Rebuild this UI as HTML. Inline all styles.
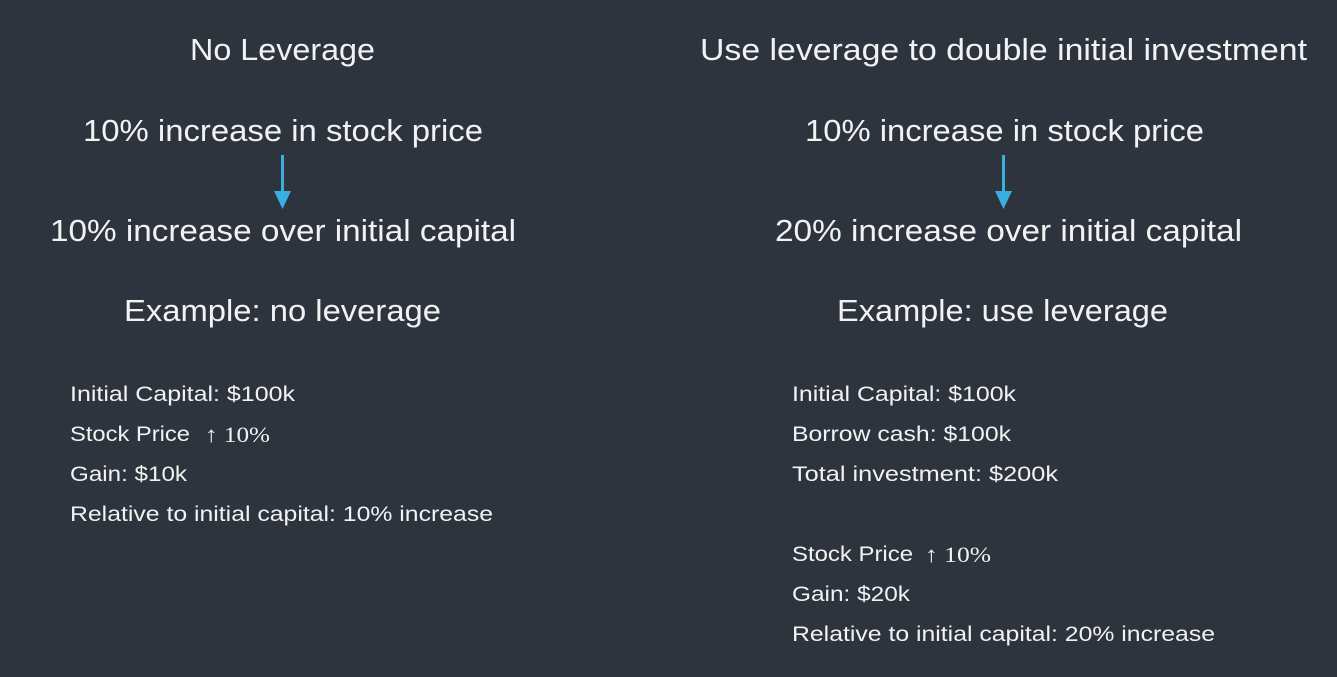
<!DOCTYPE html>
<html><head><meta charset="utf-8"><style>
html,body{margin:0;padding:0;background:#2d343e;}
svg{display:block}
.b{font-family:"Liberation Sans",sans-serif;font-size:31px;fill:#f2f2f2}
.s{font-family:"Liberation Sans",sans-serif;font-size:21px;fill:#f2f2f2}
.m{font-family:"Liberation Serif",serif;font-size:22px;fill:#f2f2f2}
</style></head><body>
<svg width="1337" height="677" viewBox="0 0 1337 677">
<rect width="1337" height="677" fill="#2d343e"/>
<g>
<text class="b" x="190" y="60" textLength="185" lengthAdjust="spacingAndGlyphs">No Leverage</text>
<text class="b" x="83" y="141" textLength="400" lengthAdjust="spacingAndGlyphs">10% increase in stock price</text>
<g><rect x="281" y="155" width="3" height="38" fill="#3aaee0"/><polygon points="274,191 291,191 282.5,209" fill="#3aaee0"/></g>
<text class="b" x="50" y="241" textLength="466" lengthAdjust="spacingAndGlyphs">10% increase over initial capital</text>
<text class="b" x="124" y="321" textLength="317" lengthAdjust="spacingAndGlyphs">Example: no leverage</text>
<text class="s" x="70" y="401" textLength="225" lengthAdjust="spacingAndGlyphs">Initial Capital: $100k</text>
<text class="s" x="70" y="441" textLength="120" lengthAdjust="spacingAndGlyphs">Stock Price</text>
<text class="m" x="205" y="442" textLength="65" lengthAdjust="spacingAndGlyphs">↑ 10%</text>
<text class="s" x="70" y="481" textLength="117" lengthAdjust="spacingAndGlyphs">Gain: $10k</text>
<text class="s" x="70" y="521" textLength="423" lengthAdjust="spacingAndGlyphs">Relative to initial capital: 10% increase</text>
</g>
<g>
<text class="b" x="700" y="60" textLength="607" lengthAdjust="spacingAndGlyphs">Use leverage to double initial investment</text>
<text class="b" x="805" y="141" textLength="399" lengthAdjust="spacingAndGlyphs">10% increase in stock price</text>
<g><rect x="1002" y="155" width="3" height="38" fill="#3aaee0"/><polygon points="995,191 1012,191 1003.5,209" fill="#3aaee0"/></g>
<text class="b" x="775" y="241" textLength="467" lengthAdjust="spacingAndGlyphs">20% increase over initial capital</text>
<text class="b" x="837" y="321" textLength="331" lengthAdjust="spacingAndGlyphs">Example: use leverage</text>
<text class="s" x="792" y="401" textLength="224" lengthAdjust="spacingAndGlyphs">Initial Capital: $100k</text>
<text class="s" x="792" y="441" textLength="219" lengthAdjust="spacingAndGlyphs">Borrow cash: $100k</text>
<text class="s" x="792" y="481" textLength="266" lengthAdjust="spacingAndGlyphs">Total investment: $200k</text>
<text class="s" x="792" y="561" textLength="121" lengthAdjust="spacingAndGlyphs">Stock Price</text>
<text class="m" x="925" y="562" textLength="66" lengthAdjust="spacingAndGlyphs">↑ 10%</text>
<text class="s" x="792" y="601" textLength="118" lengthAdjust="spacingAndGlyphs">Gain: $20k</text>
<text class="s" x="792" y="641" textLength="423" lengthAdjust="spacingAndGlyphs">Relative to initial capital: 20% increase</text>
</g>
</svg>
</body></html>
